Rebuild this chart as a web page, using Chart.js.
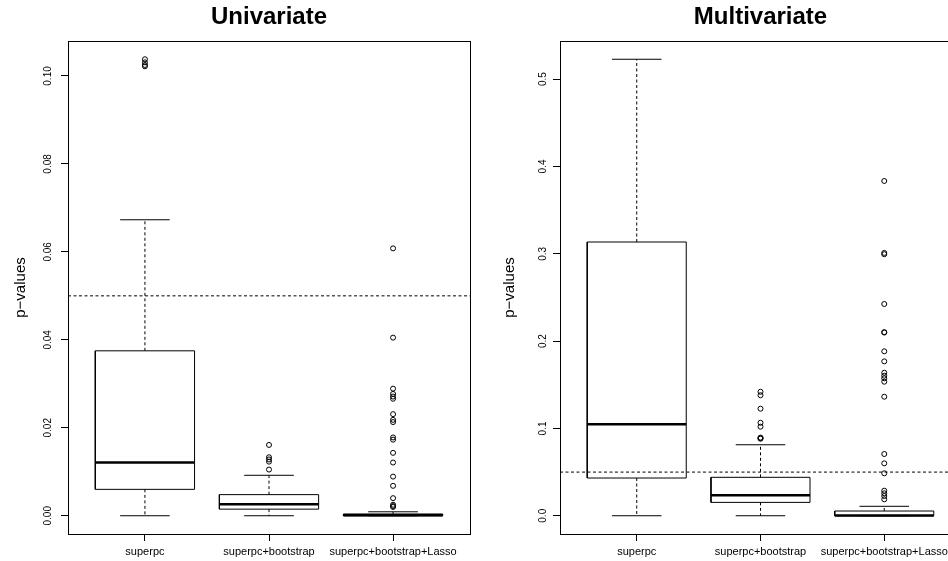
<!DOCTYPE html>
<html>
<head>
<meta charset="utf-8">
<title>p-values boxplots</title>
<script src="https://cdn.jsdelivr.net/npm/chart.js@4.4.1/dist/chart.umd.min.js"></script>
<style>
  html, body { margin: 0; padding: 0; background: #fff; }
  #page { position: relative; width: 948px; height: 561px; overflow: hidden; }
  canvas { position: absolute; top: 0; }
  #uni { left: 0; }
  #multi { left: 474px; }
</style>
</head>
<body>
<div id="page">
  <canvas id="uni" width="538" height="561"></canvas>
  <canvas id="multi" width="573" height="561"></canvas>
</div>
<script>
const categories = ['superpc', 'superpc+bootstrap', 'superpc+bootstrap+Lasso'];

// Univariate: five-number summaries per method + outliers
const uniLower = [0, 0, 0];
const uniQ1 = [0.0060, 0.0015, 0.0000];
const uniMedian = [0.0121, 0.0026, 0.0001];
const uniQ3 = [0.0375, 0.0048, 0.0004];
const uniUpper = [0.0673, 0.0092, 0.0009];
const uniOutliers = [
    [0.1038, 0.1031, 0.1025, 0.1022],
    [0.0161, 0.0133, 0.0128, 0.0123, 0.0105],
    [0.0608, 0.0405, 0.0289, 0.0277, 0.0271, 0.0266, 0.0231, 0.0218, 0.0213,
     0.0178, 0.0173, 0.0143, 0.0121, 0.0089, 0.0068, 0.0040, 0.0025, 0.0022, 0.0020]
];
const uniTicks = [0, 0.02, 0.04, 0.06, 0.08, 0.10];
const uniTickLabels = ['0.00', '0.02', '0.04', '0.06', '0.08', '0.10'];

// Multivariate
const mulLower = [0, 0, 0];
const mulQ1 = [0.0432, 0.0153, 0.0000];
const mulMedian = [0.1047, 0.0234, 0.0003];
const mulQ3 = [0.3135, 0.0440, 0.0054];
const mulUpper = [0.5228, 0.0813, 0.0108];
const mulOutliers = [
    [],
    [0.1420, 0.1380, 0.1226, 0.1065, 0.1020, 0.0895, 0.0888, 0.0882],
    [0.3834, 0.3010, 0.2995, 0.2425, 0.2103, 0.2098, 0.1883, 0.1768, 0.1638, 0.1604,
     0.1574, 0.1535, 0.1363, 0.0707, 0.0600, 0.0486, 0.0287, 0.0257, 0.0226, 0.0188]
];
const mulTicks = [0, 0.1, 0.2, 0.3, 0.4, 0.5];
const mulTickLabels = ['0.0', '0.1', '0.2', '0.3', '0.4', '0.5'];

const cutoff = 0.05;

const X_MIN = 0.38;
const X_MAX = 3.62;
const BOX_HALF = 0.4;
const CAP_HALF = 0.2;
const DASH = [3, 2.5];

Chart.defaults.font.family = "'Liberation Sans', Arial, Helvetica, sans-serif";
Chart.defaults.color = '#000';

function segment(points, width, dash) {
    return {
        type: 'scatter',
        data: points,
        showLine: true,
        borderColor: '#000',
        borderWidth: width,
        borderDash: dash || [],
        pointRadius: 0,
        fill: false
    };
}

function buildDatasets(lower, q1, median, q3, upper, outliers) {
    const sets = [];
    categories.forEach((cat, i) => {
        const x = i + 1;
        const l = x - BOX_HALF, r = x + BOX_HALF;
        sets.push(segment([{x: l, y: q1[i]}, {x: r, y: q1[i]}, {x: r, y: q3[i]},
                           {x: l, y: q3[i]}, {x: l, y: q1[i]}], 1));
        sets.push(segment([{x: l, y: median[i]}, {x: r, y: median[i]}], 2.5));
        sets.push(segment([{x: x, y: q3[i]}, {x: x, y: upper[i]}], 1, DASH));
        sets.push(segment([{x: x, y: q1[i]}, {x: x, y: lower[i]}], 1, DASH));
        sets.push(segment([{x: x - CAP_HALF, y: upper[i]}, {x: x + CAP_HALF, y: upper[i]}], 1));
        sets.push(segment([{x: x - CAP_HALF, y: lower[i]}, {x: x + CAP_HALF, y: lower[i]}], 1));
    });

    const pts = [];
    outliers.forEach((vals, i) => vals.forEach(v => pts.push({x: i + 1, y: v})));
    sets.push({
        type: 'scatter',
        data: pts,
        pointRadius: 2.5,
        pointBorderWidth: 1,
        pointBorderColor: '#000',
        pointBackgroundColor: 'rgba(0,0,0,0)'
    });

    sets.push(segment([{x: X_MIN, y: cutoff}, {x: X_MAX, y: cutoff}], 1, DASH));
    return sets;
}

function makePanel(canvas, title, lower, q1, median, q3, upper, outliers, ticks, tickLabels, axisWidth, titlePad) {
    // R-style 4% extension of the data range
    const all = lower.concat(upper, outliers.flat());
    const lo = Math.min(...all), hi = Math.max(...all);
    const ext = (hi - lo) * 0.04;

    new Chart(canvas, {
        type: 'scatter',
        data: {datasets: buildDatasets(lower, q1, median, q3, upper, outliers)},
        options: {
            responsive: false,
            animation: false,
            layout: {padding: 0},
            plugins: {
                legend: {display: false},
                tooltip: {enabled: false},
                title: {
                    display: true,
                    text: title,
                    color: '#000',
                    font: {size: 24, weight: 'bold'},
                    padding: {top: 3, bottom: 9.2}
                }
            },
            scales: {
                x: {
                    type: 'linear',
                    min: X_MIN,
                    max: X_MAX,
                    afterBuildTicks: s => { s.ticks = categories.map((c, i) => ({value: i + 1})); },
                    afterFit: s => { s.height = 27; },
                    ticks: {
                        callback: (v, i) => categories[i],
                        font: {size: 11},
                        color: '#000',
                        padding: 4,
                        maxRotation: 0,
                        autoSkip: false
                    },
                    grid: {drawOnChartArea: false, tickLength: 7, color: '#000'},
                    border: {display: true, color: '#000'}
                },
                y: {
                    type: 'linear',
                    min: lo - ext,
                    max: hi + ext,
                    afterBuildTicks: s => { s.ticks = ticks.map(v => ({value: v})); },
                    afterFit: s => { s.width = axisWidth; },
                    ticks: {
                        callback: (v, i) => tickLabels[i],
                        minRotation: 90,
                        maxRotation: 90,
                        crossAlign: 'center',
                        padding: 3,
                        font: {size: 10},
                        color: '#000',
                        autoSkip: false
                    },
                    grid: {drawOnChartArea: false, tickLength: 7, color: '#000'},
                    border: {display: true, color: '#000'},
                    title: {
                        display: true,
                        text: 'p\u2212values',
                        color: '#000',
                        font: {size: 15},
                        padding: {top: titlePad, bottom: 0}
                    }
                },
                // top and right sides of the plot frame
                x2: {
                    type: 'linear',
                    position: 'top',
                    min: X_MIN,
                    max: X_MAX,
                    ticks: {display: false},
                    grid: {display: false, drawTicks: false},
                    border: {display: true, color: '#000'},
                    afterFit: s => { s.height = 0; }
                },
                y2: {
                    type: 'linear',
                    position: 'right',
                    ticks: {display: false},
                    grid: {display: false, drawTicks: false},
                    border: {display: true, color: '#000'},
                    // same width as the left axis keeps the title centred over the plot
                    afterFit: s => { s.width = axisWidth; }
                }
            }
        }
    });
}

makePanel(document.getElementById('uni'), 'Univariate',
    uniLower, uniQ1, uniMedian, uniQ3, uniUpper, uniOutliers, uniTicks, uniTickLabels, 68, 12);
makePanel(document.getElementById('multi'), 'Multivariate',
    mulLower, mulQ1, mulMedian, mulQ3, mulUpper, mulOutliers, mulTicks, mulTickLabels, 86, 27);
</script>
</body>
</html>
